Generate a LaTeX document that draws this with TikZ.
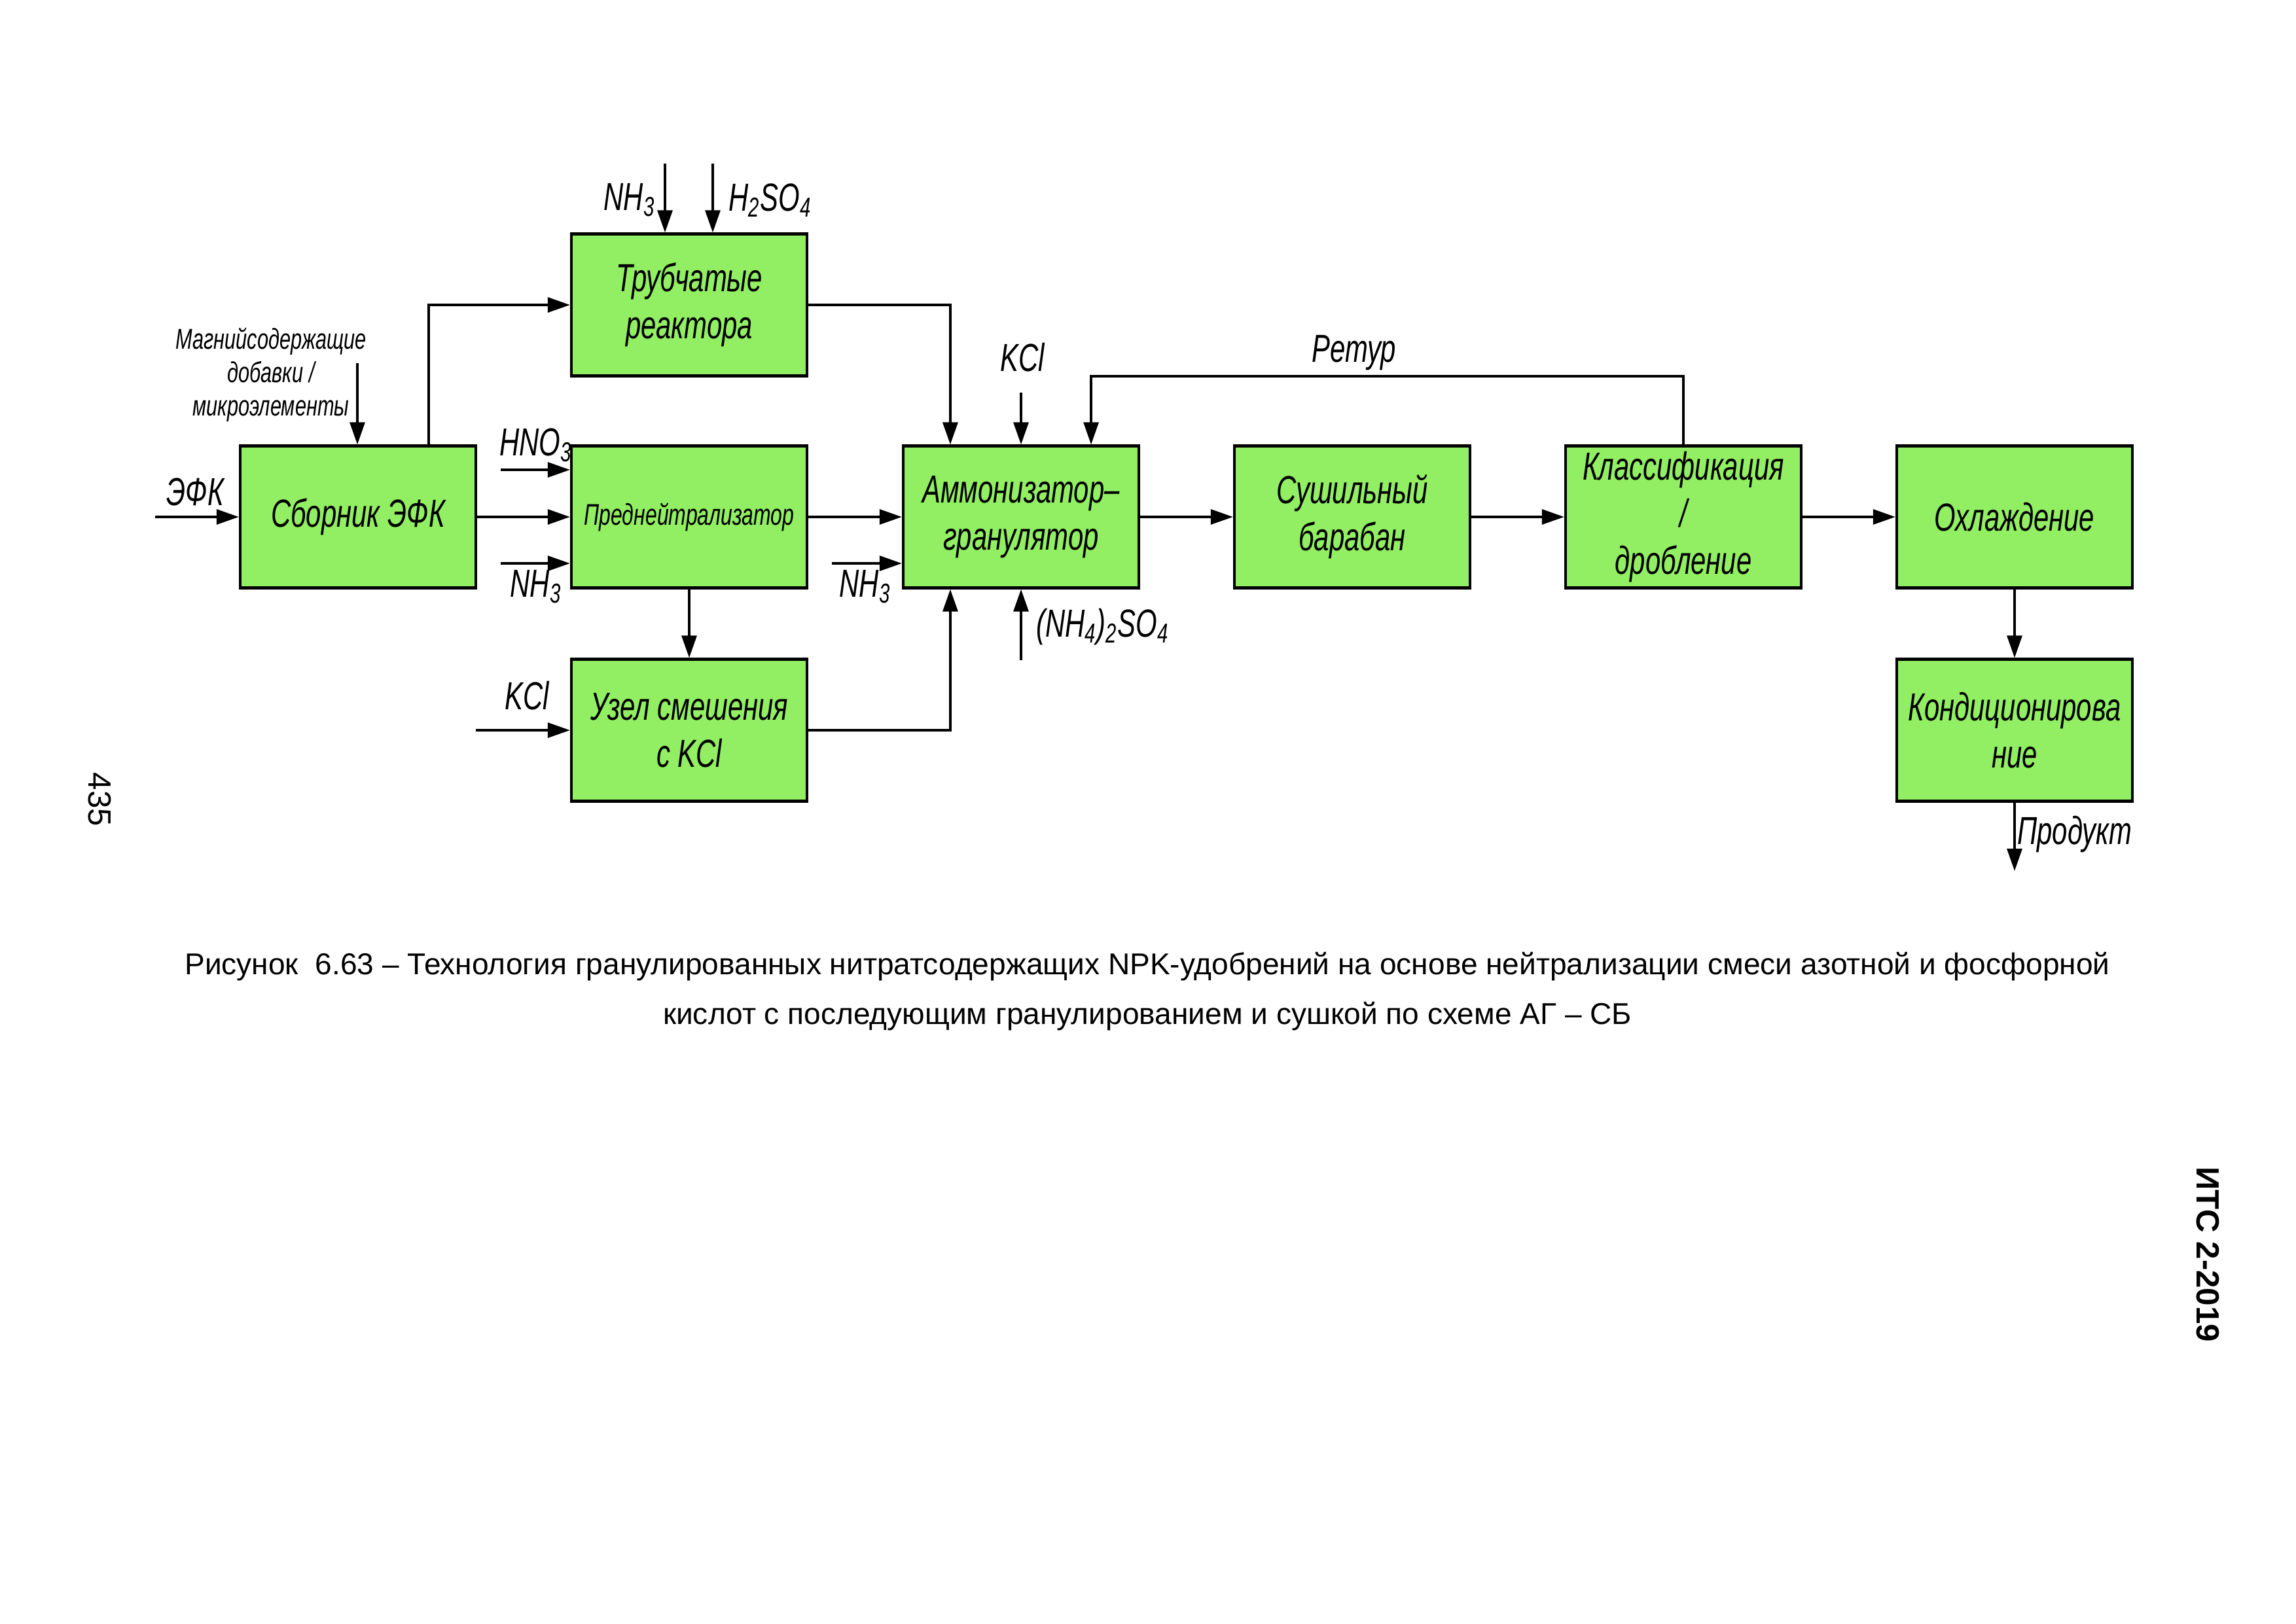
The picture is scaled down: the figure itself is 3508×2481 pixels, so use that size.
\documentclass[tikz,border=0pt]{standalone}
\usepackage{fontspec}
\setmainfont{Liberation Sans}
\newfontfamily\gost[FakeStretch=0.7]{Liberation Sans}
\usetikzlibrary{arrows.meta}
\definecolor{boxgreen}{RGB}{146,238,98}
\tikzset{
  blk/.style={draw, fill=boxgreen, line width=1.2pt, minimum width=3.6cm, minimum height=2.17cm,
    inner sep=0pt, align=center, font=\gost\itshape\fontsize{17}{20.5}\selectfont},
  arr/.style={line width=0.9pt, -{Triangle[length=0.34cm,width=0.23cm]}},
  lbl/.style={inner sep=0pt, font=\gost\itshape\fontsize{17}{20.5}\selectfont},
  captext/.style={inner sep=0pt, font=\fontsize{13.1}{16}\selectfont}
}
\begin{document}
\begin{tikzpicture}[x=0.01cm,y=-0.01cm]
\useasboundingbox[fill=white] (0,0) rectangle (3508,2481);
% boxes
\node[blk] (sb) at (547,790) {Сборник ЭФК};
\node[blk] (tr) at (1053,466) {Трубчатые\\реактора};
\node[blk, font=\gost\itshape\fontsize{13}{16}\selectfont] (pn) at (1053,790) {Преднейтрализатор};
\node[blk] (uz) at (1053,1116) {Узел смешения\\с KCl};
\node[blk] (am) at (1560,790) {Аммонизатор–\\гранулятор};
\node[blk] (su) at (2066,790) {Сушильный\\барабан};
\node[blk] (kl) at (2572,790) {Классификация\\/\\дробление};
\node[blk] (ox) at (3078,790) {Охлаждение};
\node[blk] (ko) at (3078,1116) {Кондиционирова\\ние};
% free ends
\coordinate (efk) at (237,790);
\coordinate (mg) at (546,555);
\coordinate (hno) at (765,718);
\coordinate (nha) at (765,861);
\coordinate (nhb) at (1016,250);
\coordinate (hso) at (1089,250);
\coordinate (kcla) at (1560,600);
\coordinate (ret) at (2572,575);
\coordinate (nhc) at (1271,861);
\coordinate (nhs) at (1560,1009);
\coordinate (kclb) at (727,1116);
\coordinate (prod) at (3078,1331);
% connectors
\draw[arr] (efk) -- (sb.west);
\draw[arr] (mg) -- (mg |- sb.north);
\draw[arr] ([xshift=1.08cm]sb.north) |- (tr.west);
\draw[arr] (sb) -- (pn);
\draw[arr] (hno) -- (hno -| pn.west);
\draw[arr] (nha) -- (nha -| pn.west);
\draw[arr] (nhb) -- (nhb |- tr.north);
\draw[arr] (hso) -- (hso |- tr.north);
\draw[arr] (tr.east) -| ([xshift=-1.08cm]am.north);
\draw[arr] (kcla) -- (am.north);
\draw[arr] (kl.north) -- (ret) -| ([xshift=1.07cm]am.north);
\draw[arr] (pn) -- (am);
\draw[arr] (nhc) -- (nhc -| am.west);
\draw[arr] (uz.east) -| ([xshift=-1.08cm]am.south);
\draw[arr] (nhs) -- (am.south);
\draw[arr] (pn) -- (uz);
\draw[arr] (kclb) -- (uz.west);
\draw[arr] (am) -- (su);
\draw[arr] (su) -- (kl);
\draw[arr] (kl) -- (ox);
\draw[arr] (ox) -- (ko);
\draw[arr] (ko.south) -- (prod);
% labels
\node[lbl] (lefk) at (298,752) {ЭФК};
\node[lbl, align=center, font=\gost\itshape\fontsize{12.5}{14.5}\selectfont] (lmg) at (414,573) {Магнийсодержащие\\добавки /\\микроэлементы};
\node[lbl] (lhno) at (819,680) {HNO\textsubscript{3}};
\node[lbl] (lnha) at (819,897) {NH\textsubscript{3}};
\node[lbl] (lnhb) at (962,306) {NH\textsubscript{3}};
\node[lbl] (lhso) at (1177,306) {H\textsubscript{2}SO\textsubscript{4}};
\node[lbl] (lkcla) at (1562,546) {KCl};
\node[lbl] (lret) at (2069,539) {Ретур};
\node[lbl] (lnhc) at (1322,897) {NH\textsubscript{3}};
\node[lbl] (lnhs) at (1685,958) {(NH\textsubscript{4})\textsubscript{2}SO\textsubscript{4}};
\node[lbl] (lkclb) at (805,1063) {KCl};
\node[lbl] (lprod) at (3170,1275) {Продукт};
% caption and page marks
\node[captext] (c1) at (1753,1477) {Рисунок\ \ 6.63 – Технология гранулированных нитратсодержащих NPK-удобрений на основе нейтрализации смеси азотной и фосфорной};
\node[captext] (c2) at (1753,1553) {кислот с последующим гранулированием и сушкой по схеме АГ – СБ};
\node[captext, rotate=-90, font=\fontsize{14}{17}\selectfont] (pg) at (152,1222) {435};
\node[captext, rotate=-90, font=\bfseries\fontsize{14}{17}\selectfont] (its) at (3373,1917) {ИТС 2-2019};
\end{tikzpicture}
\end{document}
